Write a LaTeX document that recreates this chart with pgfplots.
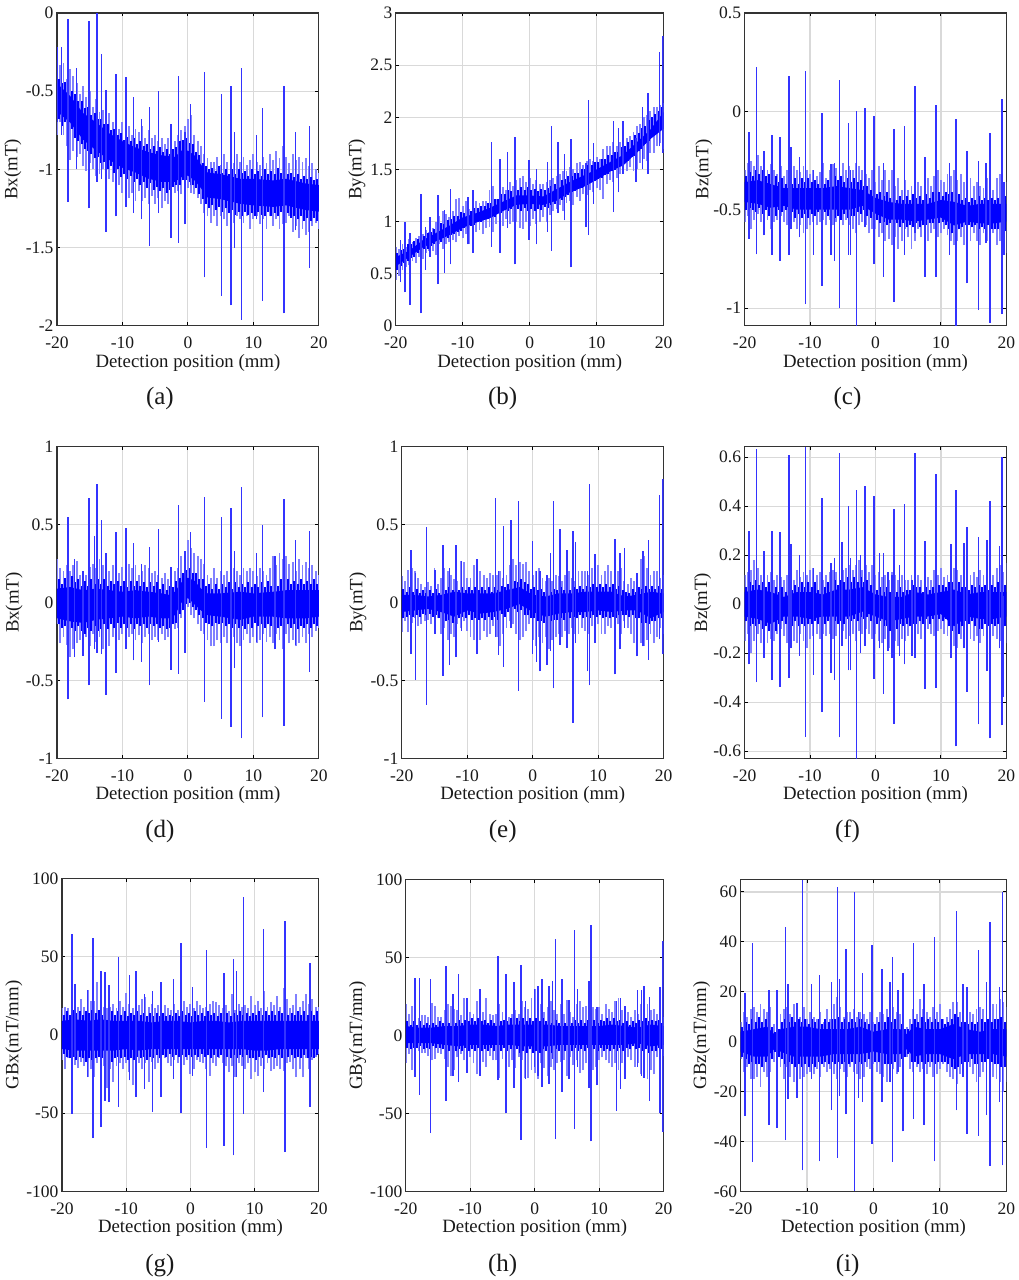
\documentclass[border=0pt]{standalone}
\usepackage{fontspec}
\setmainfont{Liberation Serif}
\usepackage{pgfplots}
\pgfplotsset{compat=1.18}
\definecolor{gridc}{gray}{0.85}
\definecolor{axc}{gray}{0.2}
\definecolor{frc}{rgb}{0.5,0.5,1}
\definecolor{spc}{rgb}{0.2,0.2,1}
\pgfplotsset{
 panel/.style={scale only axis,xmin=-20,xmax=20,xtick={-20,-10,0,10,20},xticklabels={-20,-10,0,10,20},
  grid=major,grid style={draw=gridc,line width=1.2pt},axis line style={draw=axc,line width=1.3pt},
  tick style={draw=black,line width=1pt},major tick length=3.5pt,tick align=inside,
  tick label style={font=\fontsize{17.5}{20}\selectfont,color=black!90},
  label style={font=\fontsize{18.8}{21}\selectfont,color=black!90},
  xlabel={Detection position (mm)},
  x label style={at={(axis description cs:0.5,-0.118)},anchor=center},
  xticklabel style={yshift=-8pt}},
 fr/.style={draw=none,mark=none,forget plot,error bars/y dir=plus,error bars/y explicit,error bars/error mark=none,
  error bars/error bar style={draw=frc,line width=1.9pt}},
 md/.style={draw=none,mark=none,forget plot,error bars/y dir=plus,error bars/y explicit,error bars/error mark=none,
  error bars/error bar style={draw=blue,line width=2pt}},
 sp/.style={draw=none,mark=none,forget plot,error bars/y dir=plus,error bars/y explicit,error bars/error mark=none,
  error bars/error bar style={draw=spc,line width=1.5pt}},
 core/.style={fill=blue,draw=none,mark=none,forget plot},
 hl/.style={/pgfplots/table/row sep=\\,/pgfplots/table/x=x,/pgfplots/table/y=lo,/pgfplots/table/y error plus expr=\thisrow{hi}-\thisrow{lo}}
}
\begin{document}
\begin{tikzpicture}[x=1pt,y=1pt]
\path (0,0) rectangle (1017,1280);
% ---------- (a)
\begin{axis}[panel,at={(57pt,954pt)},width=262pt,height=313pt,ymin=-2,ymax=0,ytick={-2,-1.5,-1,-0.5,0},yticklabels={-2,-1.5,-1,-0.5,0},ylabel={Bx(mT)},y label style={at={(axis description cs:-0.168,0.5)},anchor=center}]
\addplot[fr] table[hl]{x hi lo\\
-20 -.3 -.78\\-19.5 -.33 -.7\\-19 -.32 -.78\\-18.5 -.42 -.85\\-18 -.36 -.94\\-17.5 -.4 -.88\\-17 -.45 -.92\\-16.5 -.52 -.9\\-16 -.47 -.98\\-15.5 -.54 -1.01\\-15 -.5 -.96\\-14.5 -.6 -1\\-14 -.55 -1.04\\-13.5 -.63 -1.03\\-13 -.62 -1\\-12.5 -.68 -1.1\\-12 -.64 -1.06\\-11.5 -.7 -1.08\\-11 -.68 -1.12\\-10.5 -.74 -1.1\\-10 -.7 -1.15\\-9.5 -.76 -1.12\\-9 -.72 -1.18\\-8.5 -.78 -1.15\\-8 -.74 -1.2\\-7.5 -.76 -1.14\\-7 -.72 -1.2\\-6.5 -.8 -1.18\\-6 -.75 -1.22\\-5.5 -.8 -1.17\\-5 -.78 -1.22\\-4.5 -.82 -1.18\\-4 -.8 -1.25\\-3.5 -.84 -1.2\\-3 -.8 -1.22\\-2.5 -.85 -1.18\\-2 -.82 -1.15\\-1.5 -.78 -1.14\\-1 -.75 -1.16\\-.5 -.72 -1.13\\0 -.68 -1.12\\.5 -.65 -1.15\\1 -.78 -1.16\\1.5 -.82 -1.18\\2 -.85 -1.22\\2.5 -.9 -1.28\\3 -.93 -1.3\\3.5 -.95 -1.34\\4 -.95 -1.3\\4.5 -.92 -1.36\\5 -.97 -1.3\\5.5 -.9 -1.32\\6 -.95 -1.36\\6.5 -.92 -1.3\\7 -.96 -1.34\\7.5 -.9 -1.3\\8 -.95 -1.32\\8.5 -.92 -1.34\\9 -.97 -1.3\\9.5 -.94 -1.38\\10 -.9 -1.32\\10.5 -.95 -1.3\\11 -.97 -1.35\\11.5 -.92 -1.32\\12 -.96 -1.38\\12.5 -.9 -1.3\\13 -.94 -1.36\\13.5 -.88 -1.32\\14 -.93 -1.38\\14.5 -.85 -1.35\\15 -.92 -1.34\\15.5 -.96 -1.3\\16 -.9 -1.4\\16.5 -.94 -1.36\\17 -.92 -1.44\\17.5 -.95 -1.38\\18 -.93 -1.42\\18.5 -.98 -1.4\\19 -.96 -1.36\\19.5 -1 -1.34\\20 -1.02 -1.38\\};
\addplot[md] table[hl]{x hi lo\\
-19.75 -.42 -.68\\-19.25 -.45 -.72\\-18.75 -.44 -.7\\-18.25 -.48 -.76\\-17.75 -.5 -.74\\-17.25 -.52 -.8\\-16.75 -.56 -.82\\-16.25 -.56 -.84\\-15.75 -.61 -.87\\-15.25 -.6 -.88\\-14.75 -.65 -.9\\-14.25 -.64 -.93\\-13.75 -.68 -.92\\-13.25 -.68 -.96\\-12.75 -.71 -.95\\-12.25 -.71 -1\\-11.75 -.75 -.98\\-11.25 -.74 -1.02\\-10.75 -.78 -1\\-10.25 -.77 -1.05\\-9.75 -.81 -1.03\\-9.25 -.79 -1.06\\-8.75 -.82 -1.04\\-8.25 -.8 -1.08\\-7.75 -.84 -1.06\\-7.25 -.82 -1.1\\-6.75 -.85 -1.08\\-6.25 -.84 -1.12\\-5.75 -.87 -1.09\\-5.25 -.85 -1.13\\-4.75 -.88 -1.11\\-4.25 -.86 -1.14\\-3.75 -.89 -1.12\\-3.25 -.87 -1.15\\-2.75 -.9 -1.13\\-2.25 -.87 -1.11\\-1.75 -.86 -1.1\\-1.25 -.82 -1.1\\-.75 -.81 -1.07\\-.25 -.8 -1.07\\.25 -.83 -1.08\\.75 -.84 -1.1\\1.25 -.89 -1.12\\1.75 -.91 -1.16\\2.25 -.96 -1.19\\2.75 -.98 -1.22\\3.25 -1 -1.25\\3.75 -.99 -1.23\\4.25 -1.01 -1.26\\4.75 -.98 -1.24\\5.25 -1.02 -1.27\\5.75 -1 -1.25\\6.25 -1.03 -1.28\\6.75 -1 -1.26\\7.25 -1.03 -1.29\\7.75 -1 -1.27\\8.25 -1.02 -1.3\\8.75 -1.01 -1.27\\9.25 -1.04 -1.29\\9.75 -1 -1.28\\10.25 -1.03 -1.3\\10.75 -1.01 -1.27\\11.25 -1.04 -1.29\\11.75 -1 -1.3\\12.25 -1.03 -1.27\\12.75 -1.01 -1.3\\13.25 -1.03 -1.28\\13.75 -.99 -1.3\\14.25 -1.02 -1.27\\14.75 -.98 -1.29\\15.25 -1.03 -1.28\\15.75 -1.02 -1.31\\16.25 -1.05 -1.3\\16.75 -1.03 -1.32\\17.25 -1.06 -1.3\\17.75 -1.04 -1.33\\18.25 -1.06 -1.31\\18.75 -1.05 -1.33\\19.25 -1.07 -1.31\\19.75 -1.06 -1.33\\};
\addplot[core] coordinates {(-20,-.45)(-18,-.53)(-16,-.64)(-14,-.7)(-12,-.77)(-10,-.82)(-8,-.86)(-6,-.89)(-4,-.91)(-2,-.92)(-1,-.88)(0,-.88)(1,-.91)(2,-.97)(3,-1.02)(5,-1.03)(8,-1.06)(10,-1.06)(13,-1.07)(15,-1.06)(18,-1.09)(20,-1.1)(20,-1.27)(18,-1.26)(15,-1.23)(13,-1.24)(10,-1.23)(8,-1.22)(5,-1.19)(3,-1.18)(2,-1.12)(1,-1.07)(0,-1.04)(-1,-1.05)(-2,-1.08)(-4,-1.08)(-6,-1.06)(-8,-1.02)(-10,-.99)(-12,-.94)(-14,-.88)(-16,-.81)(-18,-.7)(-20,-.63)} --cycle;
\addplot[sp] table[hl]{x hi lo\\
-19.9 -.22 -.7\\-19.3 -.22 -.78\\-18.3 -.04 -1.21\\-17 -.35 -1\\-15.1 -.05 -1.25\\-13.9 0 -1.08\\-13.2 -.26 -1.06\\-12.5 -.49 -1.4\\-11 -.39 -1.3\\-9.45 -.41 -1.24\\-8.3 -.54 -1.28\\-7.1 -.68 -1.32\\-5.9 -.6 -1.49\\-4.5 -.5 -1.28\\-2.6 -.71 -1.44\\-1.4 -.4 -1.47\\-.45 -.76 -1.35\\.4 -.58 -1.1\\2.55 -.38 -1.69\\5.1 -.52 -1.81\\6.6 -.47 -1.87\\7.1 -.76 -1.5\\8.2 -.35 -1.96\\10.5 -.78 -1.32\\11.4 -.61 -1.84\\14.7 -.47 -1.92\\16.4 -.76 -1.39\\18.55 -.72 -1.63\\};
\end{axis}
% ---------- (b)
\begin{axis}[panel,at={(396pt,954pt)},width=268pt,height=313pt,ymin=0,ymax=3,ytick={0,0.5,1,1.5,2,2.5,3},yticklabels={0,0.5,1,1.5,2,2.5,3},ylabel={By(mT)},y label style={at={(axis description cs:-0.145,0.5)},anchor=center}]
\addplot[fr] table[hl]{x hi lo\\
-20 .76 .44\\-19.5 .74 .48\\-19 .78 .54\\-18.5 .76 .56\\-18 .83 .58\\-17.5 .8 .62\\-17 .84 .6\\-16.5 .86 .66\\-16 .88 .64\\-15.5 .92 .7\\-15 .9 .72\\-14.5 .94 .72\\-14 1 .68\\-13.5 1.05 .78\\-13 1.1 .74\\-12.5 1.07 .78\\-12 1.04 .8\\-11.5 1.1 .82\\-11 1.22 .8\\-10.5 1.23 .86\\-10 1.15 .84\\-9.5 1.2 .88\\-9 1.12 .78\\-8.5 1.18 .8\\-8 1.2 .9\\-7.5 1.18 .92\\-7 1.2 .88\\-6.5 1.2 .94\\-6 1.3 .95\\-5.5 1.34 .9\\-5 1.22 .98\\-4.5 1.28 1\\-4 1.33 .96\\-3.5 1.3 1.02\\-3 1.38 .98\\-2.5 1.34 1\\-2 1.4 1\\-1.5 1.42 .94\\-1 1.44 .93\\-.5 1.38 1\\0 1.42 .96\\.5 1.36 1.02\\1 1.4 .98\\1.5 1.36 1\\2 1.36 1.04\\2.5 1.38 1\\3 1.4 1.06\\3.5 1.42 1.1\\4 1.44 1.12\\4.5 1.46 1.16\\5 1.48 1.1\\5.5 1.48 1.18\\6 1.52 1.2\\6.5 1.5 1.16\\7 1.56 1.24\\7.5 1.57 1.2\\8 1.54 1.26\\8.5 1.58 1.25\\9 1.6 1.3\\9.5 1.58 1.28\\10 1.62 1.32\\10.5 1.6 1.3\\11 1.7 1.22\\11.5 1.72 1.36\\12 1.72 1.4\\12.5 1.76 1.38\\13 1.72 1.42\\13.5 1.76 1.46\\14 1.78 1.46\\14.5 1.8 1.48\\15 1.82 1.52\\15.5 1.86 1.48\\16 1.92 1.5\\16.5 1.94 1.56\\17 2 1.6\\17.5 2.02 1.58\\18 2.06 1.66\\18.5 2.1 1.66\\19 2.1 1.72\\19.5 2.12 1.75\\20 2.14 1.7\\};
\addplot[md] table[hl]{x hi lo\\
-19.75 .7 .54\\-19.25 .73 .57\\-18.75 .74 .6\\-18.25 .78 .62\\-17.75 .78 .65\\-17.25 .81 .66\\-16.75 .83 .7\\-16.25 .85 .7\\-15.75 .86 .74\\-15.25 .89 .74\\-14.75 .9 .77\\-14.25 .93 .78\\-13.75 .95 .8\\-13.25 .99 .8\\-12.75 .98 .84\\-12.25 1.01 .84\\-11.75 1.02 .87\\-11.25 1.05 .88\\-10.75 1.05 .9\\-10.25 1.09 .91\\-9.75 1.08 .94\\-9.25 1.1 .94\\-8.75 1.1 .96\\-8.25 1.13 .97\\-7.75 1.13 1\\-7.25 1.15 1\\-6.75 1.15 1.02\\-6.25 1.18 1.02\\-5.75 1.18 1.05\\-5.25 1.22 1.04\\-4.75 1.22 1.08\\-4.25 1.26 1.08\\-3.75 1.26 1.11\\-3.25 1.3 1.1\\-2.75 1.29 1.12\\-2.25 1.32 1.1\\-1.75 1.3 1.12\\-1.25 1.33 1.1\\-.75 1.3 1.13\\-.25 1.33 1.1\\.25 1.3 1.12\\.75 1.31 1.1\\1.25 1.29 1.12\\1.75 1.31 1.11\\2.25 1.3 1.14\\2.75 1.32 1.13\\3.25 1.34 1.16\\3.75 1.36 1.17\\4.25 1.37 1.2\\4.75 1.4 1.21\\5.25 1.41 1.24\\5.75 1.44 1.25\\6.25 1.44 1.28\\6.75 1.47 1.29\\7.25 1.47 1.32\\7.75 1.5 1.32\\8.25 1.5 1.35\\8.75 1.54 1.35\\9.25 1.54 1.38\\9.75 1.57 1.39\\10.25 1.57 1.41\\10.75 1.6 1.42\\11.25 1.6 1.45\\11.75 1.64 1.46\\12.25 1.64 1.48\\12.75 1.67 1.49\\13.25 1.67 1.52\\13.75 1.71 1.53\\14.25 1.72 1.56\\14.75 1.76 1.58\\15.25 1.78 1.62\\15.75 1.83 1.63\\16.25 1.85 1.68\\16.75 1.9 1.7\\17.25 1.92 1.74\\17.75 1.97 1.77\\18.25 2 1.82\\18.75 2.03 1.83\\19.25 2.06 1.87\\19.75 2.1 1.88\\};
\addplot[core] coordinates {(-20,.66)(-18,.72)(-16,.82)(-14,.89)(-12,.96)(-10,1.04)(-8,1.08)(-6,1.13)(-4,1.19)(-2,1.25)(0,1.25)(2,1.24)(4,1.31)(6,1.38)(8,1.44)(10,1.5)(12,1.57)(14,1.64)(16,1.76)(18,1.88)(20,2.05)(20,1.89)(18,1.79)(16,1.66)(14,1.54)(12,1.48)(10,1.4)(8,1.33)(6,1.28)(4,1.2)(2,1.16)(0,1.17)(-2,1.16)(-4,1.1)(-6,1.03)(-8,.99)(-10,.94)(-12,.87)(-14,.81)(-16,.75)(-18,.66)(-20,.57)} --cycle;
\addplot[sp] table[hl]{x hi lo\\
-19.3 .825 .42\\-18.65 1 .32\\-17.9 .89 .2\\-16.2 1.26 .12\\-15.6 .95 .54\\-14.9 1.04 .66\\-13.7 1.25 .4\\-12.7 1.11 .51\\-11.8 1.31 .59\\-9.25 1.24 .78\\-8.5 1.3 .7\\-5.7 1.76 .76\\-4.45 1.6 .7\\-3.3 1.67 .94\\-2.2 1.81 .59\\-.1 1.59 .825\\1 1.5 .78\\2.65 1.57 .9\\3.25 1.92 .72\\4.25 1.76 1.08\\5.2 1.65 1.01\\6.15 1.79 .56\\8.4 1.56 .95\\8.75 2.17 .87\\9.55 1.75 1.17\\12.5 1.96 1.09\\13.25 1.9 1.28\\13.95 1.96 1.46\\15.85 1.8 1.38\\16.85 2.1 1.5\\17.7 2.23 1.46\\19.35 2.63 1.72\\19.9 2.78 1.66\\};
\end{axis}
% ---------- (c)
\begin{axis}[panel,at={(745pt,954pt)},width=262pt,height=313pt,ymin=-1.09,ymax=.5,ytick={-1,-0.5,0,0.5},yticklabels={-1,-0.5,0,0.5},ylabel={Bz(mT)},y label style={at={(axis description cs:-0.156,0.5)},anchor=center}]
\addplot[fr] table[hl]{x hi lo\\
-20 -.3 -.56\\-19.5 -.26 -.53\\-19 -.25 -.6\\-18.5 -.28 -.55\\-18 -.22 -.52\\-17.5 -.28 -.56\\-17 -.25 -.58\\-16.5 -.3 -.55\\-16 -.27 -.6\\-15.5 -.3 -.56\\-15 -.32 -.55\\-14.5 -.28 -.53\\-14 -.33 -.56\\-13.5 -.3 -.58\\-13 -.32 -.6\\-12.5 -.28 -.56\\-12 -.3 -.6\\-11.5 -.31 -.58\\-11 -.28 -.62\\-10.5 -.3 -.6\\-10 -.32 -.58\\-9.5 -.3 -.56\\-9 -.33 -.58\\-8.5 -.31 -.56\\-8 -.26 -.55\\-7.5 -.34 -.58\\-7 -.3 -.55\\-6.5 -.27 -.58\\-6 -.29 -.56\\-5.5 -.28 -.62\\-5 -.26 -.58\\-4.5 -.3 -.55\\-4 -.28 -.58\\-3.5 -.3 -.6\\-3 -.26 -.62\\-2.5 -.28 -.58\\-2 -.3 -.56\\-1.5 -.32 -.58\\-1 -.34 -.62\\-.5 -.3 -.6\\0 -.36 -.6\\.5 -.28 -.64\\1 -.35 -.62\\1.5 -.3 -.66\\2 -.35 -.65\\2.5 -.3 -.68\\3 -.38 -.64\\3.5 -.34 -.7\\4 -.4 -.66\\4.5 -.35 -.6\\5 -.4 -.64\\5.5 -.38 -.7\\6 -.32 -.66\\6.5 -.36 -.6\\7 -.38 -.64\\7.5 -.36 -.6\\8 -.34 -.66\\8.5 -.38 -.62\\9 -.33 -.6\\9.5 -.3 -.64\\10 -.35 -.62\\10.5 -.36 -.6\\11 -.32 -.63\\11.5 -.33 -.66\\12 -.3 -.68\\12.5 -.35 -.66\\13 -.32 -.64\\13.5 -.36 -.68\\14 -.36 -.62\\14.5 -.34 -.66\\15 -.38 -.62\\15.5 -.36 -.66\\16 -.38 -.68\\16.5 -.39 -.62\\17 -.34 -.66\\17.5 -.38 -.64\\18 -.4 -.62\\18.5 -.34 -.68\\19 -.32 -.66\\19.5 -.36 -.68\\20 -.36 -.72\\};
\addplot[md] table[hl]{x hi lo\\
-19.75 -.33 -.5\\-19.25 -.31 -.49\\-18.75 -.33 -.5\\-18.25 -.3 -.51\\-17.75 -.32 -.49\\-17.25 -.3 -.52\\-16.75 -.33 -.5\\-16.25 -.32 -.53\\-15.75 -.35 -.51\\-15.25 -.33 -.53\\-14.75 -.36 -.5\\-14.25 -.34 -.51\\-13.75 -.37 -.5\\-13.25 -.35 -.53\\-12.75 -.37 -.51\\-12.25 -.34 -.54\\-11.75 -.37 -.52\\-11.25 -.34 -.54\\-10.75 -.36 -.52\\-10.25 -.34 -.54\\-9.75 -.36 -.52\\-9.25 -.35 -.53\\-8.75 -.37 -.51\\-8.25 -.34 -.54\\-7.75 -.37 -.51\\-7.25 -.35 -.53\\-6.75 -.36 -.52\\-6.25 -.33 -.54\\-5.75 -.35 -.53\\-5.25 -.33 -.55\\-4.75 -.36 -.52\\-4.25 -.34 -.54\\-3.75 -.36 -.53\\-3.25 -.34 -.53\\-2.75 -.36 -.51\\-2.25 -.35 -.52\\-1.75 -.38 -.5\\-1.25 -.38 -.53\\-.75 -.4 -.54\\-.25 -.39 -.56\\.25 -.42 -.55\\.75 -.41 -.57\\1.25 -.43 -.56\\1.75 -.41 -.58\\2.25 -.44 -.57\\2.75 -.43 -.59\\3.25 -.45 -.57\\3.75 -.43 -.59\\4.25 -.45 -.57\\4.75 -.43 -.59\\5.25 -.45 -.58\\5.75 -.42 -.59\\6.25 -.44 -.57\\6.75 -.43 -.59\\7.25 -.45 -.58\\7.75 -.42 -.58\\8.25 -.44 -.57\\8.75 -.41 -.57\\9.25 -.43 -.56\\9.75 -.41 -.57\\10.25 -.43 -.56\\10.75 -.41 -.58\\11.25 -.42 -.6\\11.75 -.41 -.62\\12.25 -.43 -.61\\12.75 -.42 -.6\\13.25 -.45 -.59\\13.75 -.44 -.58\\14.25 -.46 -.58\\14.75 -.44 -.59\\15.25 -.45 -.58\\15.75 -.43 -.6\\16.25 -.45 -.59\\16.75 -.44 -.6\\17.25 -.45 -.58\\17.75 -.44 -.6\\18.25 -.45 -.6\\18.75 -.44 -.6\\19.25 -.45 -.59\\19.75 -.43 -.61\\};
\addplot[core] coordinates {(-20,-.36)(-18,-.35)(-16,-.37)(-14,-.39)(-12,-.39)(-10,-.39)(-8,-.39)(-6,-.38)(-4,-.39)(-2,-.4)(0,-.44)(2,-.46)(4,-.47)(6,-.47)(8,-.47)(10,-.45)(12,-.46)(14,-.48)(16,-.47)(18,-.47)(20,-.47)(20,-.56)(18,-.57)(16,-.57)(14,-.56)(12,-.58)(10,-.54)(8,-.55)(6,-.56)(4,-.55)(2,-.55)(0,-.52)(-2,-.48)(-4,-.5)(-6,-.5)(-8,-.5)(-10,-.5)(-12,-.5)(-14,-.48)(-16,-.49)(-18,-.47)(-20,-.46)} --cycle;
\addplot[sp] table[hl]{x hi lo\\
-19.3 -.105 -.647\\-18.2 .224 -.727\\-17 -.2 -.63\\-15.8 -.12 -.73\\-14.6 -.13 -.76\\-13.25 .18 -.73\\-12.9 -.18 -.6\\-11.6 -.23 -.64\\-10.7 .207 -.98\\-9.5 -.3 -.73\\-8.15 -.01 -.886\\-6.8 -.27 -.73\\-6.3 -.26 -.76\\-5.5 .16 -1\\-4.15 -.06 -.73\\-3.85 -.3 -.73\\-2.9 0 -1.1\\-1.6 .017 -.59\\-.25 -.025 -.776\\1.25 -.26 -.84\\2.8 -.09 -.97\\4.4 -.076 -.73\\6 .127 -.62\\7.55 -.23 -.84\\9.2 .034 -.84\\11.3 -.26 -.73\\12.3 -.04 -1.1\\14 -.2 -.874\\15.75 -.25 -1.01\\16.85 -.26 -.67\\17.5 -.11 -1.075\\19.3 .065 -1.03\\19.65 -.36 -.73\\};
\end{axis}
% ---------- (d)
\begin{axis}[panel,at={(57pt,521pt)},width=262pt,height=312pt,ymin=-1,ymax=1,ytick={-1,-0.5,0,0.5,1},yticklabels={-1,-0.5,0,0.5,1},ylabel={Bx(mT)},y label style={at={(axis description cs:-0.164,0.5)},anchor=center}]
\addplot[fr] table[hl]{x hi lo\\
-20 .28 -.14\\-19.5 .22 -.26\\-19 .2 -.22\\-18.5 .24 -.27\\-18 .2 -.35\\-17.5 .24 -.3\\-17 .27 -.26\\-16.5 .18 -.24\\-16 .2 -.33\\-15.5 .18 -.22\\-15 .23 -.28\\-14.5 .25 -.2\\-14 .22 -.25\\-13.5 .28 -.22\\-13 .24 -.3\\-12.5 .26 -.36\\-12 .2 -.28\\-11.5 .24 -.22\\-11 .22 -.25\\-10.5 .19 -.24\\-10 .23 -.2\\-9.5 .18 -.26\\-9 .25 -.22\\-8.5 .22 -.2\\-8 .24 -.24\\-7.5 .18 -.21\\-7 .2 -.26\\-6.5 .24 -.22\\-6 .22 -.2\\-5.5 .19 -.24\\-5 .2 -.22\\-4.5 .18 -.24\\-4 .16 -.2\\-3.5 .19 -.24\\-3 .15 -.22\\-2.5 .21 -.2\\-2 .2 -.17\\-1.5 .22 -.16\\-1 .3 -.1\\-.5 .3 -.08\\0 .4 -.03\\.5 .35 -.08\\1 .32 -.1\\1.5 .3 -.14\\2 .28 -.18\\2.5 .25 -.2\\3 .18 -.24\\3.5 .16 -.28\\4 .22 -.28\\4.5 .16 -.24\\5 .2 -.26\\5.5 .18 -.22\\6 .2 -.26\\6.5 .16 -.24\\7 .22 -.22\\7.5 .2 -.26\\8 .18 -.28\\8.5 .22 -.24\\9 .2 -.2\\9.5 .22 -.26\\10 .2 -.22\\10.5 .17 -.26\\11 .22 -.24\\11.5 .2 -.2\\12 .18 -.25\\12.5 .22 -.22\\13 .3 -.26\\13.5 .24 -.2\\14 .32 -.24\\14.5 .28 -.3\\15 .3 -.2\\15.5 .25 -.26\\16 .26 -.24\\16.5 .2 -.28\\17 .28 -.26\\17.5 .24 -.22\\18 .26 -.26\\18.5 .22 -.2\\19 .24 -.22\\19.5 .2 -.18\\20 .18 -.16\\};
\addplot[md] table[hl]{x hi lo\\
-19.75 .15 -.14\\-19.25 .12 -.16\\-18.75 .16 -.15\\-18.25 .13 -.19\\-17.75 .17 -.16\\-17.25 .13 -.18\\-16.75 .15 -.15\\-16.25 .11 -.18\\-15.75 .14 -.2\\-15.25 .11 -.16\\-14.75 .15 -.18\\-14.25 .12 -.15\\-13.75 .15 -.18\\-13.25 .12 -.17\\-12.75 .15 -.14\\-12.25 .11 -.17\\-11.75 .14 -.14\\-11.25 .12 -.16\\-10.75 .14 -.13\\-10.25 .11 -.16\\-9.75 .14 -.14\\-9.25 .1 -.16\\-8.75 .14 -.14\\-8.25 .11 -.17\\-7.75 .14 -.14\\-7.25 .11 -.15\\-6.75 .13 -.14\\-6.25 .1 -.16\\-5.75 .13 -.14\\-5.25 .11 -.15\\-4.75 .13 -.14\\-4.25 .09 -.16\\-3.75 .12 -.15\\-3.25 .08 -.17\\-2.75 .11 -.16\\-2.25 .1 -.14\\-1.75 .14 -.13\\-1.25 .16 -.07\\-.75 .19 -.05\\-.25 .21 -.01\\.25 .22 0\\.75 .19 -.03\\1.25 .19 -.05\\1.75 .15 -.08\\2.25 .15 -.1\\2.75 .11 -.13\\3.25 .12 -.14\\3.75 .09 -.15\\4.25 .12 -.13\\4.75 .09 -.14\\5.25 .12 -.13\\5.75 .1 -.15\\6.25 .13 -.14\\6.75 .09 -.16\\7.25 .13 -.14\\7.75 .1 -.16\\8.25 .12 -.15\\8.75 .1 -.17\\9.25 .13 -.14\\9.75 .1 -.16\\10.25 .12 -.13\\10.75 .1 -.15\\11.25 .13 -.14\\11.75 .1 -.16\\12.25 .14 -.14\\12.75 .11 -.15\\13.25 .14 -.13\\13.75 .11 -.16\\14.25 .15 -.15\\14.75 .13 -.17\\15.25 .15 -.14\\15.75 .12 -.16\\16.25 .14 -.14\\16.75 .12 -.17\\17.25 .15 -.15\\17.75 .12 -.16\\18.25 .14 -.14\\18.75 .12 -.16\\19.25 .15 -.14\\19.75 .12 -.15\\};
\addplot[core] coordinates {(-20,.09)(-18,.1)(-16,.08)(-14,.09)(-12,.08)(-10,.07)(-8,.08)(-6,.07)(-4,.06)(-3,.05)(-2,.07)(-1,.13)(0,.16)(1,.14)(2,.09)(3,.06)(5,.06)(8,.07)(10,.06)(13,.07)(15,.08)(18,.08)(20,.08)(20,-.09)(18,-.1)(15,-.1)(13,-.09)(10,-.09)(8,-.11)(5,-.09)(3,-.08)(2,-.05)(1,-.01)(0,.03)(-1,0)(-2,-.08)(-3,-.1)(-4,-.1)(-6,-.09)(-8,-.1)(-10,-.09)(-12,-.1)(-14,-.11)(-16,-.13)(-18,-.12)(-20,-.1)} --cycle;
\addplot[sp] table[hl]{x hi lo\\
-18.3 .55 -.62\\-17.3 .28 -.35\\-16 .2 -.34\\-15.1 .67 -.53\\-14.3 .43 -.3\\-13.9 .76 -.32\\-13.2 .53 -.33\\-12.5 .32 -.59\\-11 .455 -.45\\-9.45 .48 -.3\\-8.3 .38 -.37\\-7.1 .25 -.38\\-5.9 .36 -.53\\-4.5 .475 -.25\\-2.6 .23 -.43\\-1.4 .625 -.455\\-.45 .33 -.32\\.4 .455 0\\2.55 .675 -.635\\5.1 .55 -.745\\6.6 .61 -.795\\7.1 .33 -.42\\8.2 .74 -.87\\10.5 .32 -.25\\11.4 .5 -.735\\13.3 .3 -.3\\14.7 .665 -.79\\16.4 .4 -.27\\18.55 .46 -.445\\};
\end{axis}
% ---------- (e)
\begin{axis}[panel,at={(402pt,521pt)},width=262pt,height=312pt,ymin=-1,ymax=1,ytick={-1,-0.5,0,0.5,1},yticklabels={-1,-0.5,0,0.5,1},ylabel={By(mT)},y label style={at={(axis description cs:-0.168,0.5)},anchor=center}]
\addplot[fr] table[hl]{x hi lo\\
-20 .17 -.19\\-19.5 .14 -.12\\-19 .21 -.19\\-18.5 .22 -.13\\-18 .2 -.1\\-17.5 .16 -.15\\-17 .12 -.14\\-16.5 .1 -.12\\-16 .13 -.11\\-15.5 .11 -.14\\-15 .22 -.12\\-14.5 .12 -.1\\-14 .16 -.2\\-13.5 .22 -.16\\-13 .2 -.24\\-12.5 .18 -.2\\-12 .15 -.22\\-11.5 .14 -.14\\-11 .27 -.16\\-10.5 .26 -.12\\-10 .16 -.18\\-9.5 .16 -.22\\-9 .24 -.24\\-8.5 .18 -.2\\-8 .2 -.24\\-7.5 .18 -.18\\-7 .16 -.22\\-6.5 .19 -.2\\-6 .18 -.15\\-5.5 .18 -.22\\-5 .2 -.28\\-4.5 .16 -.2\\-4 .18 -.16\\-3.5 .24 -.12\\-3 .28 -.14\\-2.5 .24 -.2\\-2 .26 -.24\\-1.5 .25 -.22\\-1 .26 -.18\\-.5 .2 -.14\\0 .18 -.24\\.5 .2 -.28\\1 .22 -.22\\1.5 .16 -.26\\2 .14 -.22\\2.5 .16 -.3\\3 .14 -.24\\3.5 .18 -.22\\4 .17 -.2\\4.5 .14 -.22\\5 .18 -.18\\5.5 .2 -.2\\6 .16 -.16\\6.5 .14 -.2\\7 .2 -.2\\7.5 .2 -.16\\8 .2 -.18\\8.5 .18 -.2\\9 .22 -.15\\9.5 .16 -.26\\10 .24 -.14\\10.5 .18 -.2\\11 .2 -.2\\11.5 .24 -.15\\12 .2 -.16\\12.5 .22 -.18\\13 .2 -.14\\13.5 .22 -.2\\14 .14 -.12\\14.5 .12 -.16\\15 .16 -.2\\15.5 .14 -.26\\16 .18 -.22\\16.5 .28 -.26\\17 .3 -.28\\17.5 .22 -.24\\18 .18 -.2\\18.5 .2 -.26\\19 .2 -.22\\19.5 .16 -.16\\20 .18 -.2\\};
\addplot[md] table[hl]{x hi lo\\
-19.75 .09 -.1\\-19.25 .07 -.09\\-18.75 .1 -.08\\-18.25 .07 -.09\\-17.75 .09 -.08\\-17.25 .06 -.09\\-16.75 .08 -.07\\-16.25 .06 -.08\\-15.75 .08 -.07\\-15.25 .06 -.09\\-14.75 .09 -.08\\-14.25 .06 -.1\\-13.75 .09 -.1\\-13.25 .08 -.12\\-12.75 .1 -.11\\-12.25 .08 -.13\\-11.75 .11 -.12\\-11.25 .08 -.1\\-10.75 .1 -.09\\-10.25 .08 -.1\\-9.75 .1 -.08\\-9.25 .08 -.11\\-8.75 .1 -.1\\-8.25 .08 -.11\\-7.75 .1 -.1\\-7.25 .08 -.11\\-6.75 .1 -.09\\-6.25 .07 -.11\\-5.75 .1 -.09\\-5.25 .08 -.11\\-4.75 .11 -.07\\-4.25 .1 -.09\\-3.75 .12 -.06\\-3.25 .12 -.07\\-2.75 .14 -.04\\-2.25 .13 -.06\\-1.75 .15 -.05\\-1.25 .13 -.08\\-.75 .12 -.08\\-.25 .09 -.1\\.25 .1 -.1\\.75 .08 -.12\\1.25 .09 -.12\\1.75 .07 -.13\\2.25 .08 -.12\\2.75 .07 -.12\\3.25 .09 -.11\\3.75 .08 -.11\\4.25 .1 -.1\\4.75 .08 -.11\\5.25 .1 -.09\\5.75 .08 -.1\\6.25 .1 -.09\\6.75 .09 -.1\\7.25 .11 -.08\\7.75 .09 -.1\\8.25 .11 -.09\\8.75 .1 -.1\\9.25 .12 -.08\\9.75 .1 -.09\\10.25 .12 -.08\\10.75 .1 -.1\\11.25 .12 -.09\\11.75 .1 -.1\\12.25 .12 -.09\\12.75 .09 -.1\\13.25 .11 -.08\\13.75 .08 -.08\\14.25 .07 -.08\\14.75 .06 -.09\\15.25 .09 -.08\\15.75 .07 -.1\\16.25 .1 -.1\\16.75 .09 -.13\\17.25 .11 -.13\\17.75 .09 -.14\\18.25 .11 -.12\\18.75 .09 -.12\\19.25 .11 -.1\\19.75 .09 -.1\\};
\addplot[core] coordinates {(-20,.05)(-18,.05)(-16,.04)(-14,.05)(-12,.07)(-10,.06)(-8,.06)(-6,.06)(-4,.08)(-2,.1)(0,.05)(2,.04)(4,.06)(6,.06)(8,.07)(10,.07)(12,.07)(14,.04)(16,.05)(18,.07)(20,.06)(20,-.06)(18,-.1)(16,-.05)(14,-.05)(12,-.06)(10,-.05)(8,-.06)(6,-.06)(4,-.07)(2,-.09)(0,-.06)(-2,-.01)(-4,-.04)(-6,-.06)(-8,-.07)(-10,-.05)(-12,-.09)(-14,-.06)(-16,-.04)(-18,-.05)(-20,-.06)} --cycle;
\addplot[sp] table[hl]{x hi lo\\
-18.6 .34 -.33\\-17.9 .19 -.495\\-16.2 .486 -.655\\-14.9 .21 -.2\\-13.7 .373 -.47\\-12.7 .22 -.4\\-11.75 .37 -.35\\-10.85 .266 -.18\\-8.5 .28 -.33\\-5.7 .674 -.22\\-5.25 .2 -.335\\-4.45 .49 -.41\\-3.3 .53 -.16\\-2.15 .65 -.565\\-.05 .395 -.33\\.55 .2 -.38\\1.1 .2 -.44\\2.2 .18 -.4\\2.75 .32 -.31\\3.2 .655 -.55\\4.2 .475 -.27\\5.2 .34 -.29\\6.15 .46 -.77\\6.55 .386 -.26\\8.35 .2 -.44\\8.7 .76 -.53\\9.55 .31 -.26\\12.6 .41 -.46\\13.3 .32 -.3\\14 .35 -.16\\15.9 .19 -.345\\16.85 .33 -.28\\17.7 .4 -.365\\19.35 .69 -.23\\19.9 .79 -.33\\};
\end{axis}
% ---------- (f)
\begin{axis}[panel,at={(745pt,521pt)},width=262pt,height=312pt,ymin=-.63,ymax=.643,ytick={-0.6,-0.4,-0.2,0,0.2,0.4,0.6},yticklabels={-0.6,-0.4,-0.2,0,0.2,0.4,0.6},ylabel={Bz(mT)},y label style={at={(axis description cs:-0.16,0.5)},anchor=center}]
\addplot[fr] table[hl]{x hi lo\\
-20 .12 -.15\\-19.5 .13 -.12\\-19 .14 -.2\\-18.5 .18 -.15\\-18 .15 -.12\\-17.5 .12 -.16\\-17 .14 -.13\\-16.5 .12 -.16\\-16 .13 -.14\\-15.5 .1 -.15\\-15 .12 -.12\\-14.5 .11 -.1\\-14 .1 -.13\\-13.5 .12 -.16\\-13 .11 -.14\\-12.5 .1 -.15\\-12 .14 -.16\\-11.5 .11 -.12\\-11 .13 -.15\\-10.5 .12 -.18\\-10 .14 -.14\\-9.5 .15 -.13\\-9 .12 -.12\\-8.5 .13 -.14\\-8 .1 -.12\\-7.5 .12 -.13\\-7 .13 -.12\\-6.5 .14 -.14\\-6 .13 -.13\\-5.5 .16 -.15\\-5 .14 -.11\\-4.5 .15 -.14\\-4 .16 -.13\\-3.5 .14 -.12\\-3 .16 -.15\\-2.5 .18 -.11\\-2 .14 -.12\\-1.5 .16 -.1\\-1 .13 -.12\\-.5 .16 -.14\\0 .12 -.12\\.5 .13 -.15\\1 .11 -.16\\1.5 .12 -.14\\2 .1 -.18\\2.5 .13 -.19\\3 .12 -.15\\3.5 .1 -.17\\4 .12 -.14\\4.5 .1 -.15\\5 .1 -.13\\5.5 .12 -.14\\6 .14 -.13\\6.5 .12 -.12\\7 .1 -.14\\7.5 .13 -.12\\8 .11 -.1\\8.5 .1 -.12\\9 .14 -.13\\9.5 .12 -.11\\10 .15 -.1\\10.5 .11 -.12\\11 .12 -.13\\11.5 .14 -.15\\12 .15 -.17\\12.5 .14 -.18\\13 .12 -.14\\13.5 .13 -.15\\14 .11 -.12\\14.5 .12 -.14\\15 .13 -.15\\15.5 .11 -.13\\16 .14 -.16\\16.5 .12 -.13\\17 .13 -.12\\17.5 .11 -.14\\18 .12 -.13\\18.5 .15 -.14\\19 .16 -.15\\19.5 .13 -.18\\20 .17 -.16\\};
\addplot[md] table[hl]{x hi lo\\
-19.75 .07 -.07\\-19.25 .09 -.09\\-18.75 .08 -.08\\-18.25 .1 -.09\\-17.75 .08 -.08\\-17.25 .09 -.1\\-16.75 .07 -.09\\-16.25 .09 -.11\\-15.75 .07 -.1\\-15.25 .07 -.11\\-14.75 .05 -.08\\-14.25 .07 -.07\\-13.75 .05 -.08\\-13.25 .08 -.07\\-12.75 .06 -.09\\-12.25 .08 -.07\\-11.75 .07 -.09\\-11.25 .09 -.08\\-10.75 .07 -.09\\-10.25 .09 -.08\\-9.75 .07 -.08\\-9.25 .09 -.07\\-8.75 .06 -.08\\-8.25 .08 -.06\\-7.75 .07 -.08\\-7.25 .09 -.07\\-6.75 .07 -.08\\-6.25 .1 -.07\\-5.75 .08 -.08\\-5.25 .1 -.07\\-4.75 .09 -.08\\-4.25 .11 -.06\\-3.75 .09 -.07\\-3.25 .11 -.06\\-2.75 .09 -.07\\-2.25 .11 -.05\\-1.75 .09 -.06\\-1.25 .1 -.05\\-.75 .08 -.07\\-.25 .09 -.06\\.25 .06 -.08\\.75 .07 -.07\\1.25 .05 -.09\\1.75 .07 -.09\\2.25 .05 -.11\\2.75 .06 -.09\\3.25 .05 -.1\\3.75 .07 -.08\\4.25 .05 -.09\\4.75 .06 -.08\\5.25 .06 -.09\\5.75 .08 -.08\\6.25 .07 -.08\\6.75 .07 -.07\\7.25 .05 -.08\\7.75 .07 -.06\\8.25 .06 -.08\\8.75 .07 -.06\\9.25 .08 -.07\\9.75 .08 -.06\\10.25 .08 -.07\\10.75 .07 -.06\\11.25 .09 -.09\\11.75 .09 -.11\\12.25 .1 -.13\\12.75 .09 -.12\\13.25 .07 -.09\\13.75 .07 -.07\\14.25 .06 -.08\\14.75 .08 -.07\\15.25 .07 -.09\\15.75 .08 -.1\\16.25 .07 -.1\\16.75 .08 -.08\\17.25 .06 -.09\\17.75 .08 -.08\\18.25 .07 -.09\\18.75 .09 -.08\\19.25 .08 -.1\\19.75 .08 -.09\\};
\addplot[core] coordinates {(-20,.05)(-18,.06)(-16,.05)(-14,.03)(-12,.05)(-10,.05)(-8,.04)(-6,.06)(-4,.06)(-2,.07)(0,.04)(2,.03)(4,.03)(6,.05)(8,.04)(10,.05)(12,.06)(14,.04)(16,.05)(18,.05)(20,.05)(20,-.05)(18,-.06)(16,-.06)(14,-.05)(12,-.09)(10,-.04)(8,-.05)(6,-.05)(4,-.06)(2,-.07)(0,-.05)(-2,-.03)(-4,-.05)(-6,-.05)(-8,-.05)(-10,-.06)(-12,-.05)(-14,-.05)(-16,-.08)(-18,-.06)(-20,-.05)} --cycle;
\addplot[sp] table[hl]{x hi lo\\
-19.3 .3 -.245\\-18.2 .633 -.318\\-17 .216 -.22\\-15.8 .3 -.31\\-14.6 .293 -.337\\-13.25 .61 -.3\\-12.9 .246 -.18\\-11.6 .2 -.21\\-10.7 .643 -.54\\-9.5 .147 -.287\\-8.15 .433 -.44\\-6.8 .17 -.28\\-6.3 .19 -.31\\-5.5 .616 -.543\\-5.1 .255 -.17\\-4.15 .4 -.27\\-3.85 .19 -.27\\-2.9 .467 -.63\\-2.3 .2 -.2\\-1.6 .483 -.17\\-.25 .443 -.304\\.6 .21 -.18\\1.25 .21 -.365\\1.9 .13 -.19\\2.5 .12 -.22\\2.8 .388 -.487\\3.7 .16 -.21\\4.4 .41 -.245\\5.6 .1 -.21\\6 .616 -.22\\7.55 .26 -.345\\9.2 .53 -.34\\11.5 .246 -.22\\12.3 .467 -.58\\13.5 .25 -.18\\14 .314 -.357\\15.75 .273 -.49\\17 .263 -.273\\17.5 .42 -.548\\18.9 .236 -.18\\19.3 .6 -.494\\19.5 .033 -.38\\};
\end{axis}
% ---------- (g)
\begin{axis}[panel,at={(62pt,88pt)},width=257pt,height=313pt,ymin=-100,ymax=100,ytick={-100,-50,0,50,100},yticklabels={-100,-50,0,50,100},ylabel={GBx(mT/mm)},y label style={at={(axis description cs:-0.187,0.5)},anchor=center}]
\addplot[fr] table[hl]{x hi lo\\
-20 17 -16\\-19.5 18 -22\\-19 17 -15\\-18.5 27 -20\\-18 32 -19\\-17.5 18 -21\\-17 23 -17\\-16.5 18 -20\\-16 29 -27\\-15.5 22 -22\\-15 22 -27\\-14.5 34 -18\\-14 22 -26\\-13.5 18 -20\\-13 17 -34\\-12.5 18 -22\\-12 20 -30\\-11.5 17 -20\\-11 22 -18\\-10.5 18 -22\\-10 27 -18\\-9.5 20 -24\\-9 17 -32\\-8.5 22 -20\\-8 19 -18\\-7.5 23 -22\\-7 24 -18\\-6.5 18 -30\\-6 20 -17\\-5.5 17 -22\\-5 19 -18\\-4.5 17 -20\\-4 19 -15\\-3.5 17 -18\\-3 16 -20\\-2.5 20 -16\\-2 16 -18\\-1.5 22 -16\\-1 22 -19\\-.5 18 -16\\0 20 -25\\.5 17 -22\\1 22 -16\\1.5 19 -17\\2 17 -18\\2.5 18 -22\\3 20 -26\\3.5 22 -18\\4 21 -20\\4.5 19 -15\\5 17 -18\\5.5 19 -20\\6 15 -24\\6.5 26 -20\\7 16 -27\\7.5 20 -18\\8 18 -20\\8.5 19 -22\\9 17 -18\\9.5 25 -28\\10 19 -24\\10.5 22 -26\\11 17 -20\\11.5 28 -22\\12 18 -18\\12.5 21 -23\\13 19 -22\\13.5 25 -20\\14 18 -22\\14.5 30 -23\\15 23 -18\\15.5 17 -17\\16 19 -22\\16.5 26 -27\\17 18 -22\\17.5 22 -27\\18 26 -15\\18.5 20 -22\\19 23 -16\\19.5 18 -14\\20 18 -12\\};
\addplot[md] table[hl]{x hi lo\\
-19.75 13 -12\\-19.25 15 -14\\-18.75 13 -15\\-18.25 16 -14\\-17.75 14 -16\\-17.25 15 -14\\-16.75 13 -15\\-16.25 15 -17\\-15.75 14 -15\\-15.25 16 -16\\-14.75 14 -15\\-14.25 16 -14\\-13.75 13 -15\\-13.25 15 -16\\-12.75 13 -15\\-12.25 15 -17\\-11.75 13 -15\\-11.25 15 -14\\-10.75 13 -15\\-10.25 15 -14\\-9.75 12 -16\\-9.25 14 -15\\-8.75 13 -16\\-8.25 15 -14\\-7.75 13 -15\\-7.25 14 -14\\-6.75 12 -16\\-6.25 14 -14\\-5.75 12 -15\\-5.25 14 -13\\-4.75 12 -15\\-4.25 14 -13\\-3.75 12 -14\\-3.25 13 -12\\-2.75 12 -14\\-2.25 14 -13\\-1.75 12 -14\\-1.25 15 -13\\-.75 13 -14\\-.25 14 -13\\.25 12 -14\\.75 15 -13\\1.25 13 -14\\1.75 14 -12\\2.25 12 -14\\2.75 15 -13\\3.25 13 -15\\3.75 14 -13\\4.25 12 -14\\4.75 14 -13\\5.25 12 -15\\5.75 14 -14\\6.25 12 -15\\6.75 14 -13\\7.25 13 -15\\7.75 15 -13\\8.25 13 -14\\8.75 14 -13\\9.25 12 -15\\9.75 14 -15\\10.25 13 -16\\10.75 15 -14\\11.25 13 -15\\11.75 15 -13\\12.25 13 -15\\12.75 15 -14\\13.25 13 -15\\13.75 15 -13\\14.25 14 -15\\14.75 16 -14\\15.25 13 -14\\15.75 14 -13\\16.25 13 -15\\16.75 15 -14\\17.25 13 -15\\17.75 15 -13\\18.25 13 -15\\18.75 15 -14\\19.25 13 -15\\19.75 15 -13\\};
\addplot[core] coordinates {(-20,9)(-18,10)(-16,9)(-14,10)(-12,9)(-10,9)(-8,9)(-6,8)(-4,9)(-2,9)(0,8)(2,9)(4,9)(6,8)(8,9)(10,9)(12,9)(14,9)(16,9)(18,9)(20,9)(20,-9)(18,-9)(16,-9)(14,-9)(12,-10)(10,-10)(8,-9)(6,-9)(4,-9)(2,-9)(0,-9)(-2,-9)(-4,-9)(-6,-9)(-8,-10)(-10,-9)(-12,-10)(-14,-10)(-16,-10)(-18,-10)(-20,-9)} --cycle;
\addplot[sp] table[hl]{x hi lo\\
-18.45 64.3 -50.5\\-18 32.6 -14\\-16 29 -27\\-15.2 62 -66\\-13.95 41 -59\\-13.3 40 -42\\-12.65 32 -43\\-11.2 49.8 -46\\-9.5 38 -29\\-8.45 41 -39.4\\-7.15 26 -34.5\\-5.9 28 -49\\-4.55 34 -39.4\\-2.6 36 -28\\-1.45 59 -50\\.35 30.7 -26\\2.5 54.5 -72\\5.2 39.4 -71\\6.7 48.6 -77\\7.2 41 -27\\8.25 88 -50.5\\11.4 67.7 -36.6\\14.7 72.6 -75\\18.6 46 -46\\};
\end{axis}
% ---------- (h)
\begin{axis}[panel,at={(406pt,88pt)},width=258pt,height=312pt,ymin=-100,ymax=100,ytick={-100,-50,0,50,100},yticklabels={-100,-50,0,50,100},ylabel={GBy(mT/mm)},y label style={at={(axis description cs:-0.187,0.5)},anchor=center}]
\addplot[fr] table[hl]{x hi lo\\
-20 20 -18\\-19.5 14 -12\\-19 19 -22\\-18.5 12 -26\\-18 11 -10\\-17.5 13 -11\\-17 13 -11\\-16.5 12 -13\\-16 21 -16\\-15.5 19 -15\\-15 12 -11\\-14.5 12 -12\\-14 16 -15\\-13.5 20 -20\\-13 19 -26\\-12.5 17 -22\\-12 16 -14\\-11.5 13 -12\\-11 24 -16\\-10.5 18 -24\\-10 15 -14\\-9.5 14 -18\\-9 22 -25\\-8.5 17 -15\\-8 15 -17\\-7.5 24 -20\\-7 14 -13\\-6.5 13 -16\\-6 14 -16\\-5.5 20 -27\\-5 15 -15\\-4.5 13 -14\\-4 12 -20\\-3.5 14 -16\\-3 16 -21\\-2.5 14 -14\\-2 22 -16\\-1.5 18 -27\\-1 17 -27\\-.5 24 -22\\0 30 -24\\.5 22 -28\\1 20 -18\\1.5 15 -21\\2 18 -26\\2.5 22 -20\\3 16 -22\\3.5 14 -18\\4 20 -17\\4.5 14 -16\\5 23 -26\\5.5 15 -14\\6 12 -19\\6.5 20 -16\\7 22 -24\\7.5 18 -22\\8 19 -18\\8.5 14 -16\\9 18 -22\\9.5 17 -20\\10 18 -16\\10.5 14 -14\\11 20 -16\\11.5 17 -18\\12 15 -20\\12.5 22 -18\\13 24 -22\\13.5 16 -18\\14 19 -20\\14.5 15 -14\\15 12 -16\\15.5 16 -20\\16 14 -18\\16.5 20 -25\\17 18 -26\\17.5 20 -28\\18 16 -22\\18.5 17 -25\\19 14 -14\\19.5 12 -14\\20 12 -13\\};
\addplot[md] table[hl]{x hi lo\\
-19.75 9 -8\\-19.25 7 -9\\-18.75 9 -8\\-18.25 7 -8\\-17.75 9 -7\\-17.25 7 -9\\-16.75 8 -8\\-16.25 7 -9\\-15.75 8 -7\\-15.25 7 -8\\-14.75 9 -8\\-14.25 8 -9\\-13.75 10 -8\\-13.25 8 -10\\-12.75 10 -9\\-12.25 8 -10\\-11.75 10 -9\\-11.25 8 -10\\-10.75 10 -8\\-10.25 9 -10\\-9.75 11 -9\\-9.25 9 -10\\-8.75 11 -8\\-8.25 9 -10\\-7.75 10 -9\\-7.25 8 -10\\-6.75 10 -8\\-6.25 8 -10\\-5.75 10 -9\\-5.25 9 -10\\-4.75 10 -8\\-4.25 9 -10\\-3.75 11 -9\\-3.25 9 -10\\-2.75 11 -9\\-2.25 9 -11\\-1.75 11 -10\\-1.25 9 -11\\-.75 11 -9\\-.25 9 -11\\.25 11 -10\\.75 9 -11\\1.25 11 -9\\1.75 9 -10\\2.25 10 -9\\2.75 8 -11\\3.25 10 -9\\3.75 8 -10\\4.25 10 -8\\4.75 8 -10\\5.25 10 -9\\5.75 8 -10\\6.25 10 -8\\6.75 8 -10\\7.25 10 -9\\7.75 8 -10\\8.25 10 -8\\8.75 9 -10\\9.25 10 -9\\9.75 8 -10\\10.25 10 -8\\10.75 9 -10\\11.25 11 -9\\11.75 9 -10\\12.25 11 -9\\12.75 9 -10\\13.25 10 -8\\13.75 8 -10\\14.25 9 -8\\14.75 7 -9\\15.25 9 -7\\15.75 8 -9\\16.25 10 -8\\16.75 9 -10\\17.25 11 -9\\17.75 9 -11\\18.25 10 -10\\18.75 9 -10\\19.25 10 -8\\19.75 8 -9\\};
\addplot[core] coordinates {(-20,6)(-18,5)(-16,5)(-14,6)(-12,6)(-10,7)(-8,7)(-6,6)(-4,7)(-2,7)(0,7)(2,7)(4,6)(6,6)(8,6)(10,6)(12,7)(14,6)(16,5)(18,7)(20,6)(20,-6)(18,-7)(16,-5)(14,-6)(12,-6)(10,-6)(8,-6)(6,-6)(4,-6)(2,-7)(0,-7)(-2,-7)(-4,-6)(-6,-6)(-8,-6)(-10,-6)(-12,-7)(-14,-6)(-16,-5)(-18,-5)(-20,-5)} --cycle;
\addplot[sp] table[hl]{x hi lo\\
-18.6 37 -26.4\\-17.9 37 -38\\-16.2 36 -62.7\\-13.75 44.3 -42\\-12.7 26.6 -26\\-11.85 39.2 -30\\-10.5 24 -24\\-8.5 30 -26\\-5.7 50.7 -28.6\\-4.45 39.4 -50\\-3.2 34 -33.7\\-2.15 45.4 -67\\-1.4 22 -28\\0 30 -20\\.5 31.5 -26\\1.1 36 -33\\2.2 31.5 -31\\2.75 35 -15\\3.25 61.8 -66.5\\4.25 36 -36\\5.3 23 -28\\6.15 67.8 -60\\6.65 30 -20\\8.4 35 -33.5\\8.75 71 -68\\9.7 18 -32\\12.65 22 -48.4\\13.3 24 -34.5\\14 19 -28\\15.95 29 -20\\16.6 29.4 -26\\16.95 31.5 -27\\17.8 24.7 -42\\19.4 31 -50\\19.9 60.8 -61.8\\};
\end{axis}
% ---------- (i)
\begin{axis}[panel,at={(741pt,88pt)},width=266pt,height=312pt,ymin=-60,ymax=65,ytick={-60,-40,-20,0,20,40,60},yticklabels={-60,-40,-20,0,20,40,60},ylabel={GBz(mT/mm)},y label style={at={(axis description cs:-0.147,0.5)},anchor=center}]
\addplot[fr] table[hl]{x hi lo\\
-20 8 -7\\-19.5 12 -12\\-19 10 -10\\-18.5 13 -15\\-18 14 -15\\-17.5 12 -14\\-17 15 -18\\-16.5 13 -12\\-16 12 -14\\-15.5 14 -12\\-15 7 -8\\-14.5 5 -5\\-14 11 -10\\-13.5 13 -15\\-13 14 -10\\-12.5 11 -14\\-12 15 -16\\-11.5 15 -12\\-11 10 -15\\-10.5 14 -14\\-10 9 -13\\-9.5 12 -12\\-9 10 -13\\-8.5 9 -11\\-8 12 -14\\-7.5 8 -10\\-7 13 -12\\-6.5 9 -11\\-6 15 -13\\-5.5 18 -15\\-5 14 -11\\-4.5 10 -12\\-4 12 -14\\-3.5 12 -10\\-3 13 -12\\-2.5 10 -13\\-2 12 -15\\-1.5 11 -14\\-1 9 -10\\-.5 12 -11\\0 8 -9\\.5 10 -12\\1 12 -13\\1.5 11 -14\\2 13 -16\\2.5 12 -15\\3 14 -11\\3.5 12 -13\\4 11 -10\\4.5 8 -12\\5 6 -6\\5.5 9 -11\\6 13 -12\\6.5 11 -10\\7 17 -12\\7.5 13 -11\\8 12 -13\\8.5 10 -10\\9 14 -14\\9.5 12 -13\\10 15 -11\\10.5 9 -9\\11 10 -12\\11.5 13 -14\\12 16 -15\\12.5 16 -17\\13 12 -13\\13.5 13 -14\\14 11 -12\\14.5 12 -10\\15 11 -13\\15.5 13 -16\\16 14 -14\\16.5 13 -12\\17 16 -13\\17.5 12 -11\\18 15 -14\\18.5 15 -15\\19 17 -16\\19.5 16 -20\\20 14 -16\\};
\addplot[md] table[hl]{x hi lo\\
-19.75 6 -6\\-19.25 8 -7\\-18.75 7 -9\\-18.25 9 -8\\-17.75 8 -9\\-17.25 10 -9\\-16.75 8 -10\\-16.25 9 -8\\-15.75 8 -9\\-15.25 6 -7\\-14.75 4 -4\\-14.25 5 -6\\-13.75 8 -7\\-13.25 9 -9\\-12.75 8 -8\\-12.25 10 -9\\-11.75 8 -10\\-11.25 9 -9\\-10.75 8 -10\\-10.25 9 -9\\-9.75 7 -10\\-9.25 9 -9\\-8.75 8 -10\\-8.25 9 -8\\-7.75 7 -9\\-7.25 9 -8\\-6.75 8 -9\\-6.25 9 -8\\-5.75 9 -9\\-5.25 10 -8\\-4.75 8 -9\\-4.25 9 -8\\-3.75 8 -9\\-3.25 9 -8\\-2.75 8 -9\\-2.25 9 -8\\-1.75 9 -9\\-1.25 8 -8\\-.75 7 -7\\-.25 6 -7\\.25 7 -8\\.75 8 -8\\1.25 9 -9\\1.75 8 -9\\2.25 10 -9\\2.75 8 -9\\3.25 9 -8\\3.75 8 -9\\4.25 7 -7\\4.75 5 -6\\5.25 5 -5\\5.75 7 -8\\6.25 9 -8\\6.75 8 -9\\7.25 10 -8\\7.75 8 -9\\8.25 9 -8\\8.75 8 -8\\9.25 9 -9\\9.75 8 -8\\10.25 9 -8\\10.75 7 -8\\11.25 8 -9\\11.75 9 -10\\12.25 11 -11\\12.75 10 -10\\13.25 8 -9\\13.75 8 -8\\14.25 7 -8\\14.75 8 -7\\15.25 7 -9\\15.75 8 -9\\16.25 9 -8\\16.75 8 -8\\17.25 9 -7\\17.75 8 -8\\18.25 9 -9\\18.75 9 -9\\19.25 10 -10\\19.75 8 -10\\};
\addplot[core] coordinates {(-20,4)(-18,5)(-16,6)(-14.6,2)(-14,5)(-12,6)(-10,6)(-8,5)(-6,5)(-4,5)(-2,6)(0,4)(2,5)(4,5)(5,3)(6,6)(8,5)(10,5)(12,7)(14,5)(16,4)(18,5)(20,5)(20,-6)(18,-5)(16,-5)(14,-5)(12,-7)(10,-5)(8,-5)(6,-6)(5,-3)(4,-5)(2,-5)(0,-4)(-2,-5)(-4,-5)(-6,-5)(-8,-6)(-10,-6)(-12,-6)(-14,-4)(-14.6,-2)(-16,-6)(-18,-6)(-20,-4)} --cycle;
\addplot[sp] table[hl]{x hi lo\\
-19.35 19.4 -29.8\\-18.2 39.4 -48.2\\-15.75 20.7 -33.5\\-14.5 20.7 -34.6\\-13.25 46 -39.6\\-12.85 23.3 -23\\-11.55 15.6 -22.5\\-10.7 65 -51.6\\-9.35 23 -15\\-8.1 26.6 -48\\-6.35 24 -27.4\\-5.45 62 -46.5\\-5.1 25 -21.8\\-4.15 37 -29\\-2.9 60 -60\\-2.25 12 -22.5\\-1.65 27.4 -24\\-.25 38.6 -41\\1.25 29.3 -24\\2.5 24 -16\\2.85 34 -48.2\\3.7 20.7 -12\\4.45 27.7 -36\\6.05 39.4 -30.9\\7.6 23 -33.4\\9.2 42 -48\\12.45 52.4 -27.5\\13.45 23 -14\\14.05 22 -36.9\\15.8 36.7 -37.8\\17 24 -29.4\\17.5 48 -49.8\\18.95 22 -24\\19.4 60 -49.6\\};
\end{axis}
% ---------- captions
\foreach \c/\x/\y in {a/160/881,b/503/881,c/848/881,d/160/448,e/503/448,f/848/448,g/160/14,h/503/14,i/848/14}
  \node[font=\fontsize{25}{28}\selectfont,text=black!90] at (\x,\y) {(\c)};
\end{tikzpicture}
\end{document}
